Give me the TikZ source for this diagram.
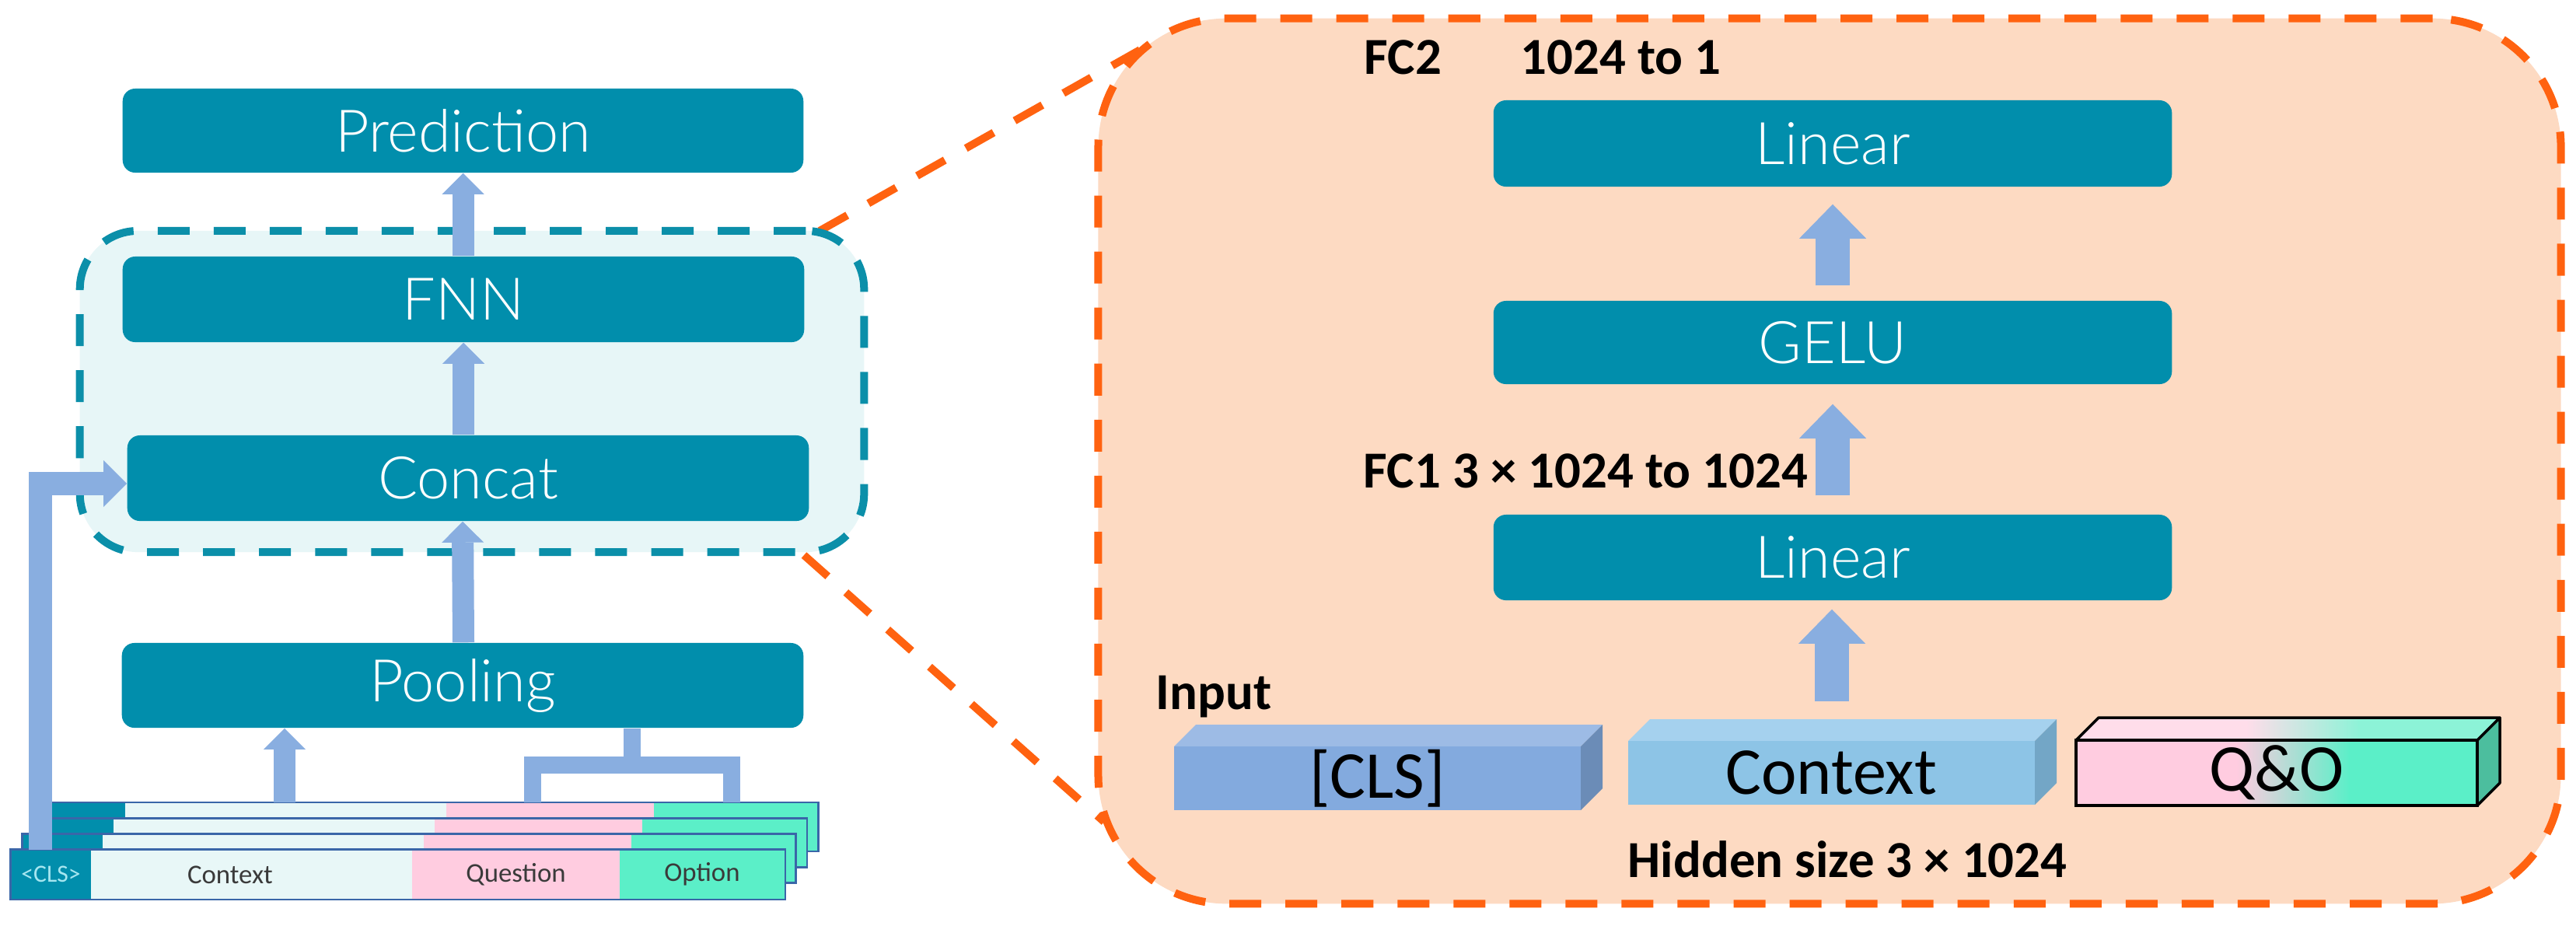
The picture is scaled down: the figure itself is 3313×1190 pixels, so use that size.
\documentclass[tikz,border=0pt]{standalone}
\usepackage{fontspec}
\setmainfont{Carlito}
\IfFontExistsTF{Lato Light}{\newfontfamily\boxfont{Lato Light}\def\boxsize{21.5pt}}{\newfontfamily\boxfont{Carlito}\def\boxsize{23.5pt}}
\usetikzlibrary{arrows.meta}
\definecolor{teal1}{HTML}{018EAC}
\definecolor{arrowc}{HTML}{89AEE0}
\definecolor{dashteal}{HTML}{0B8FA9}
\definecolor{lightbg}{HTML}{E7F6F7}
\definecolor{peach}{HTML}{FDDAC2}
\definecolor{orng}{HTML}{FF6210}
\definecolor{ctxc}{HTML}{E8F7F7}
\definecolor{qc}{HTML}{FFCCE0}
\definecolor{oc}{HTML}{5BEFC8}
\definecolor{rowline}{HTML}{3A66A8}
\definecolor{clstxt}{HTML}{A6E6F0}
\definecolor{rowtxt}{HTML}{3A3A3A}
\definecolor{clsF}{HTML}{83AADE}
\definecolor{clsT}{HTML}{9DBBE5}
\definecolor{clsS}{HTML}{6B8CB7}
\definecolor{ctxF}{HTML}{8DC4E6}
\definecolor{ctxT}{HTML}{A5D1EE}
\definecolor{ctxS}{HTML}{73A6C6}
\definecolor{qoS}{HTML}{4CBE9E}
\definecolor{pinkT}{HTML}{FFDDEA}
\definecolor{mintT}{HTML}{8CF3D7}
\tikzset{
  tbox/.style={fill=teal1, rounded corners=0.16cm, text=white, inner sep=0pt,
    font=\boxfont\fontsize{\boxsize}{28pt}\selectfont},
  larrow/.style={draw=arrowc, line width=0.28cm, line join=miter,
    -{Triangle[width=0.54cm,length=0.27cm,line width=0pt]}},
  carrow/.style={draw=arrowc, line width=0.30cm, line join=miter,
    -{Triangle[width=0.60cm,length=0.30cm,line width=0pt]}},
  rarrow/.style={draw=arrowc, line width=0.44cm,
    -{Triangle[width=0.86cm,length=0.44cm,line width=0pt]}},
  bracket/.style={draw=arrowc, line width=0.22cm, line join=miter},
  tdash/.style={draw=dashteal, line width=0.1cm, dash pattern=on 0.41cm off 0.31cm},
  odash/.style={draw=orng, line width=0.1cm, dash pattern=on 0.41cm off 0.31cm},
  blbl/.style={inner sep=0pt, text=black, font=\bfseries\fontsize{19pt}{23pt}\selectfont},
  cubelbl/.style={inner sep=0pt, text=black, font=\fontsize{24.5pt}{29pt}\selectfont},
  rowtext/.style={inner sep=0pt, text=rowtxt, font=\fontsize{9.9pt}{12pt}\selectfont},
  cellbox/.style={inner sep=0pt, minimum height=0.63cm},
}
\begin{document}
\begin{tikzpicture}[x=0.01cm, y=-0.01cm]
\useasboundingbox (0,0) rectangle (3313,1190);
\fill[white] (0,0) rectangle (3313,1190);

% ---------- zoom connector lines ----------
\coordinate (zl1) at (1054,297);
\coordinate (zr1) at (1470,62);
\coordinate (zl2) at (1034,714);
\coordinate (zr2) at (1420,1057);
\draw[odash] (zl1) -- (zr1);
\draw[odash] (zl2) -- (zr2);

% ---------- left group ----------
\node[tdash, fill=lightbg, rounded corners=0.75cm, minimum width=10.08cm,
      minimum height=4.13cm] (grp) at (607,503.5) {};

\node[tbox, minimum width=8.75cm, minimum height=1.08cm] (pred) at (595.5,168) {Prediction};
\node[tbox, minimum width=8.76cm, minimum height=1.10cm] (fnn) at (596,385) {FNN};
\node[tbox, minimum width=8.76cm, minimum height=1.10cm] (concat) at (602,615) {Concat};
\node[tbox, minimum width=8.76cm, minimum height=1.09cm] (pool) at (595,881.5) {Pooling};

\draw[larrow] (pool.north -| fnn.south) -- (pool.north |- concat.south);
\draw[larrow] (fnn.south |- concat.north) -- (fnn.south);
\draw[larrow] (fnn.north -| pred.south) -- (pred.south);

% ---------- stacked token rows ----------
\foreach \i in {3,2,1}{
  \begin{scope}[shift={(14.5*\i,-20.3*\i)}]
    \fill[teal1] (14,1093) rectangle (117,1156);
    \fill[ctxc] (117,1093) rectangle (530,1156);
    \fill[qc] (530,1093) rectangle (797,1156);
    \fill[oc] (797,1093) rectangle (1009,1156);
    \draw[rowline, line width=0.025cm] (14,1093) rectangle (1009,1156);
  \end{scope}
}
\node[cellbox, fill=teal1, minimum width=1.03cm] (c0) at (65.5,1124.5) {};
\node[cellbox, fill=ctxc, minimum width=4.13cm] (c1) at (323.5,1124.5) {};
\node[cellbox, fill=qc, minimum width=2.67cm] (c2) at (663.5,1124.5) {};
\node[cellbox, fill=oc, minimum width=2.12cm] (c3) at (903,1124.5) {};
\draw[rowline, line width=0.025cm] (c0.north west) rectangle (c3.south east);
\node[inner sep=0pt, text=clstxt, font=\fontsize{9pt}{11pt}\selectfont] (t0) at (c0) {<CLS>};
\node[rowtext] (t1) at (296,1125) {Context};
\node[rowtext] (t2) at (c2) {Question};
\node[rowtext] (t3) at (c3) {Option};

% arrows from rows
\coordinate (clsup) at (52,1093);
\draw[carrow] (clsup) |- ([yshift=-0.07cm]concat.west);
\coordinate (ctxtop) at (366,1032);
\draw[larrow] (ctxtop) -- (ctxtop |- pool.south);
\coordinate (qtop) at (684.5,1032);
\coordinate (otop) at (940.5,1032);
\coordinate (bar) at (812.5,983.5);
\draw[bracket] (qtop) |- (bar) -| (otop);
\draw[bracket] (bar) -- (bar |- pool.south);

% ---------- right zoomed panel ----------
\node[odash, fill=peach, rounded corners=1.65cm, minimum width=18.8cm,
      minimum height=11.38cm] (zbox) at (2353,593) {};

\node[blbl, anchor=base west] (fc2) at (1754,95) {FC2};
\node[blbl, anchor=base west] (fc2d) at (1955,95) {1024 to 1};
\node[blbl, anchor=base west] (fc1) at (1753,627) {FC1 3 × 1024 to 1024};
\node[blbl, anchor=base west] (inp) at (1486,912) {Input};
\node[blbl, anchor=base west] (hid) at (2093,1128) {Hidden size 3 × 1024};

\node[tbox, minimum width=8.72cm, minimum height=1.11cm] (lin2) at (2357,184.5) {Linear};
\node[tbox, minimum width=8.72cm, minimum height=1.07cm] (gelu) at (2357,440.5) {GELU};
\node[tbox, minimum width=8.72cm, minimum height=1.10cm] (lin1) at (2357,717) {Linear};

% 3D input blocks
% [CLS]
\fill[clsT] (1510,960) -- (1538,932) -- (2061,932) -- (2033,960) -- cycle;
\fill[clsS] (2033,960) -- (2061,932) -- (2061,1014) -- (2033,1042) -- cycle;
\node[cubelbl, fill=clsF, minimum width=5.23cm, minimum height=0.82cm] (cls) at (1771.5,1001) {[CLS]};
% Context
\fill[ctxT] (2094,953) -- (2122,925) -- (2645,925) -- (2617,953) -- cycle;
\fill[ctxS] (2617,953) -- (2645,925) -- (2645,1007) -- (2617,1035) -- cycle;
\node[cubelbl, fill=ctxF, minimum width=5.23cm, minimum height=0.82cm] (ctx) at (2355.5,994) {Context};
% Q&O
\begin{scope}
  \clip (2670,952) -- (2699,923) -- (3215,923) -- (3186,952) -- cycle;
  \fill[pinkT] (2660,915) rectangle (2890,960);
  \shade[left color=pinkT, right color=mintT] (2889,915) rectangle (3036,960);
  \fill[mintT] (3035,915) rectangle (3225,960);
\end{scope}
\fill[qc] (2670,952) rectangle (2877,1036);
\shade[left color=qc, right color=oc] (2876,952) rectangle (3022,1036);
\fill[oc] (3021,952) rectangle (3186,1036);
\fill[qoS] (3186,952) -- (3215,923) -- (3215,1007) -- (3186,1036) -- cycle;
\draw[black, line width=0.035cm, line join=round]
  (2670,952) -- (2699,923) -- (3215,923) -- (3186,952) -- cycle
  (3186,952) -- (3215,923) -- (3215,1007) -- (3186,1036);
\node[cubelbl, draw=black, line width=0.035cm, minimum width=5.16cm, minimum height=0.84cm] (qo) at (2928,994) {Q\&O};

% arrows in zoomed panel
\coordinate (inTop) at (2356,902);
\draw[rarrow, shorten >=0.11cm] (inTop) -- (inTop |- lin1.south);
\draw[rarrow, shorten <=0.24cm, shorten >=0.25cm] (lin1.north) -- (gelu.south);
\draw[rarrow, shorten <=0.19cm, shorten >=0.22cm] (gelu.north) -- (lin2.south);
\end{tikzpicture}
\end{document}
